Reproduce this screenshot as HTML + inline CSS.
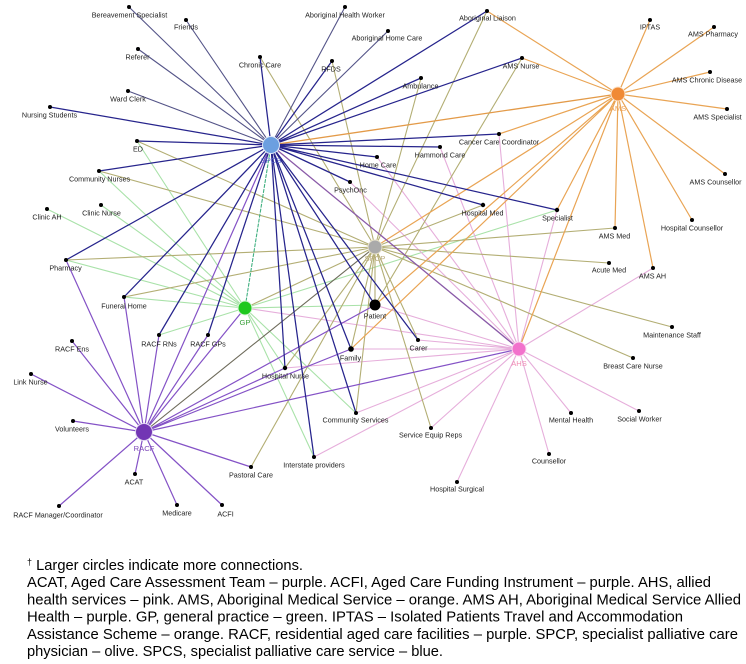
<!DOCTYPE html>
<html><head><meta charset="utf-8"><style>
html,body{margin:0;padding:0;background:#fff;}
svg{display:block;}
.l{font-family:"Liberation Sans",Arial,sans-serif;font-size:7.2px;fill:#222;text-anchor:middle;}
.h{font-family:"Liberation Sans",Arial,sans-serif;font-size:7.6px;text-anchor:middle;}
.c{font-family:"Liberation Sans",Arial,sans-serif;font-size:15px;fill:#000;}
</style></head><body>
<svg width="746" height="664" viewBox="0 0 746 664" xmlns="http://www.w3.org/2000/svg">
<rect width="746" height="664" fill="#fff"/>
<g fill="none" stroke-linecap="round">
<path stroke="#a9e2a9" stroke-width="1.1" d="M245 308L47 209M245 308L101 205M245 308L99 171M245 308L137 141M245 308L66 260M245 308L124 297M245 308L159 335M245 308L557 210M245 308L375 305M245 308L285 368M245 308L314 457M245 308L356 413"/>
<path stroke="#e6aedb" stroke-width="1.1" d="M519 349L245 308M519 349L375 305M519 349L351 349M519 349L418 340M519 349L285 368M519 349L356 413M519 349L314 457M519 349L431 428M519 349L457 482M519 349L549 454M519 349L571 413M519 349L639 411M519 349L653 268M519 349L557 210M519 349L499 134M519 349L440 147M519 349L377 157M519 349L350 182"/>
<path stroke="#b3ae74" stroke-width="1.1" d="M375 247L137 141M375 247L260 57M375 247L332 61M375 247L487 11M375 247L421 78M375 247L99 171M375 247L66 260M375 247L124 297M375 247L245 308M375 247L375 305M375 247L351 349M375 247L418 340M375 247L251 467M375 247L356 413M375 247L431 428M375 247L285 368M375 247L615 228M375 247L609 263M375 247L672 327M375 247L633 358M375 247L483 205M375 305L522 58"/>
<path stroke="#6d6a5a" stroke-width="1.1" d="M375 247L144 432"/>
<path stroke="#e9a454" stroke-width="1.2" d="M618 94L650 20M618 94L714 27M618 94L710 72M618 94L727 109M618 94L725 174M618 94L692 220M618 94L653 268M618 94L615 228M618 94L522 58M618 94L487 11M618 94L499 134M618 94L557 210M618 94L519 349M618 94L375 305M618 94L351 349M618 94L375 247"/>
<path stroke="#e39a48" stroke-width="1.3" d="M618 94L271 145"/>
<path stroke="#8452c6" stroke-width="1.2" d="M144 432L31 374M144 432L73 421M144 432L72 341M144 432L66 260M144 432L124 297M144 432L159 335M144 432L208 335M144 432L245 308M144 432L285 368M144 432L351 349M144 432L375 305M144 432L519 349M144 432L251 467M144 432L222 505M144 432L177 505M144 432L135 474M144 432L59 506M144 432L271 145"/>
<path stroke="#545488" stroke-width="1.1" d="M271 145L129 7M271 145L186 20M271 145L138 49M271 145L128 91M271 145L345 7M271 145L388 31"/>
<path stroke="#26248c" stroke-width="1.25" d="M271 145L50 107M271 145L137 141M271 145L260 57M271 145L332 61M271 145L487 11M271 145L421 78M271 145L522 58M271 145L499 134M271 145L440 147M271 145L377 157M271 145L350 182M271 145L483 205M271 145L557 210M271 145L99 171M271 145L66 260M271 145L124 297M271 145L159 335M271 145L208 335M271 145L285 368M271 145L314 457M271 145L356 413M271 145L351 349M271 145L375 305M271 145L418 340"/>
<path stroke="#8a5aa8" stroke-width="1.3" d="M271 145L519 349"/>
<path stroke="#40b080" stroke-width="1.1" stroke-dasharray="3 2" d="M271 145L245 308"/>
</g>
<g fill="#000">
<circle cx="129" cy="7" r="2"/><circle cx="186" cy="20" r="2"/><circle cx="138" cy="49" r="2"/><circle cx="260" cy="57" r="2"/>
<circle cx="332" cy="61" r="2"/><circle cx="345" cy="7" r="2"/><circle cx="128" cy="91" r="2"/><circle cx="50" cy="107" r="2"/>
<circle cx="137" cy="141" r="2"/><circle cx="99" cy="171" r="2"/><circle cx="350" cy="182" r="2"/><circle cx="377" cy="157" r="2"/>
<circle cx="487" cy="11" r="2"/><circle cx="388" cy="31" r="2"/><circle cx="650" cy="20" r="2"/><circle cx="714" cy="27" r="2"/>
<circle cx="522" cy="58" r="2"/><circle cx="421" cy="78" r="2"/><circle cx="710" cy="72" r="2"/><circle cx="727" cy="109" r="2"/>
<circle cx="499" cy="134" r="2"/><circle cx="440" cy="147" r="2"/><circle cx="725" cy="174" r="2"/><circle cx="47" cy="209" r="2"/>
<circle cx="101" cy="205" r="2"/><circle cx="66" cy="260" r="2"/><circle cx="124" cy="297" r="2"/><circle cx="159" cy="335" r="2"/>
<circle cx="208" cy="335" r="2"/><circle cx="72" cy="341" r="2"/><circle cx="351" cy="349" r="2.8"/><circle cx="285" cy="368" r="2.2"/>
<circle cx="483" cy="205" r="2.2"/><circle cx="557" cy="210" r="2.2"/><circle cx="615" cy="228" r="2"/><circle cx="692" cy="220" r="2"/>
<circle cx="609" cy="263" r="2"/><circle cx="653" cy="268" r="2"/><circle cx="418" cy="340" r="2"/><circle cx="672" cy="327" r="2"/>
<circle cx="633" cy="358" r="2"/><circle cx="31" cy="374" r="2"/><circle cx="73" cy="421" r="2"/><circle cx="135" cy="474" r="2"/>
<circle cx="59" cy="506" r="2"/><circle cx="177" cy="505" r="2"/><circle cx="222" cy="505" r="2"/><circle cx="251" cy="467" r="2"/>
<circle cx="314" cy="457" r="2"/><circle cx="356" cy="413" r="2"/><circle cx="431" cy="428" r="2"/><circle cx="571" cy="413" r="2"/>
<circle cx="639" cy="411" r="2"/><circle cx="549" cy="454" r="2"/><circle cx="457" cy="482" r="2"/>
</g>
<circle cx="271" cy="145" r="8.5" fill="#6c9fe0" stroke="#dfe8f8" stroke-width="1"/>
<circle cx="618" cy="94" r="7" fill="#f08a35" stroke="#fbe2c8" stroke-width="1"/>
<circle cx="375" cy="247" r="7" fill="#aaaaaa" stroke="#e8e2cc" stroke-width="1"/>
<circle cx="245" cy="308" r="7" fill="#1ec81e" stroke="#d8f4d8" stroke-width="1"/>
<circle cx="375" cy="305" r="5.5" fill="#000"/>
<circle cx="519" cy="349" r="7" fill="#f272cc" stroke="#fbd8f0" stroke-width="1"/>
<circle cx="144" cy="432" r="8.5" fill="#7236b4" stroke="#e2d6f2" stroke-width="1"/>
<text class="h" x="271" y="163" fill="#5a64cc">SPCS</text>
<text class="h" x="618" y="111" fill="#eea458">AMS</text>
<text class="h" x="375" y="261" fill="#b8aa7c">SPCP</text>
<text class="h" x="245" y="325" fill="#3aa03a">GP</text>
<text class="h" x="519" y="366" fill="#f08cb4">AHS</text>
<text class="h" x="144" y="451" fill="#7c48b8">RACF</text>
<text class="l" x="129.5" y="17.6">Bereavement Specialist</text>
<text class="l" x="186" y="29.6">Friends</text>
<text class="l" x="137.5" y="59.6">Referer</text>
<text class="l" x="260" y="67.6">Chronic Care</text>
<text class="l" x="331" y="71.6">RFDS</text>
<text class="l" x="345" y="17.6">Aboriginal Health Worker</text>
<text class="l" x="128" y="101.6">Ward Clerk</text>
<text class="l" x="49.5" y="117.6">Nursing Students</text>
<text class="l" x="138" y="151.6">ED</text>
<text class="l" x="99.5" y="181.6">Community Nurses</text>
<text class="l" x="350.5" y="192.6">PsychOnc</text>
<text class="l" x="378" y="167.6">Home Care</text>
<text class="l" x="487.5" y="20.6">Aboriginal Liaison</text>
<text class="l" x="387" y="40.6">Aboriginal Home Care</text>
<text class="l" x="650" y="29.6">IPTAS</text>
<text class="l" x="713" y="36.6">AMS Pharmacy</text>
<text class="l" x="521" y="68.6">AMS Nurse</text>
<text class="l" x="420.5" y="88.6">Ambulance</text>
<text class="l" x="707" y="82.6">AMS Chronic Disease</text>
<text class="l" x="717.5" y="119.6">AMS Specialist</text>
<text class="l" x="499" y="144.6">Cancer Care Coordinator</text>
<text class="l" x="440" y="157.6">Hammond Care</text>
<text class="l" x="715.5" y="184.6">AMS Counsellor</text>
<text class="l" x="47" y="219.6">Clinic AH</text>
<text class="l" x="101.5" y="215.6">Clinic Nurse</text>
<text class="l" x="65.5" y="270.6">Pharmacy</text>
<text class="l" x="124" y="308.6">Funeral Home</text>
<text class="l" x="159" y="346.6">RACF RNs</text>
<text class="l" x="208" y="346.6">RACF GPs</text>
<text class="l" x="72" y="351.6">RACF Ens</text>
<text class="l" x="375" y="318.6">Patient</text>
<text class="l" x="350.5" y="360.6">Family</text>
<text class="l" x="285.5" y="378.6">Hospital Nurse</text>
<text class="l" x="482.5" y="215.6">Hospital Med</text>
<text class="l" x="557.5" y="220.6">Specialist</text>
<text class="l" x="614.5" y="238.6">AMS Med</text>
<text class="l" x="692" y="230.6">Hospital Counsellor</text>
<text class="l" x="609" y="272.6">Acute Med</text>
<text class="l" x="652.5" y="278.6">AMS AH</text>
<text class="l" x="418.5" y="350.6">Carer</text>
<text class="l" x="672" y="337.6">Maintenance Staff</text>
<text class="l" x="633" y="368.6">Breast Care Nurse</text>
<text class="l" x="30.5" y="384.6">Link Nurse</text>
<text class="l" x="72" y="431.6">Volunteers</text>
<text class="l" x="134" y="484.6">ACAT</text>
<text class="l" x="58" y="517.6">RACF Manager/Coordinator</text>
<text class="l" x="177" y="515.6">Medicare</text>
<text class="l" x="225.5" y="516.6">ACFI</text>
<text class="l" x="251" y="477.6">Pastoral Care</text>
<text class="l" x="314" y="467.6">Interstate providers</text>
<text class="l" x="355.5" y="422.6">Community Services</text>
<text class="l" x="430.5" y="437.6">Service Equip Reps</text>
<text class="l" x="571" y="422.6">Mental Health</text>
<text class="l" x="639.5" y="421.6">Social Worker</text>
<text class="l" x="549" y="463.6">Counsellor</text>
<text class="l" x="457" y="491.6">Hospital Surgical</text>
<text class="c" x="27" y="570"><tspan font-size="9" dy="-5">†</tspan><tspan dy="5" textLength="271" lengthAdjust="spacingAndGlyphs"> Larger circles indicate more connections.</tspan></text>
<text class="c" x="27" y="587.2" textLength="684" lengthAdjust="spacingAndGlyphs">ACAT, Aged Care Assessment Team – purple. ACFI, Aged Care Funding Instrument – purple. AHS, allied</text>
<text class="c" x="27" y="604.4" textLength="714" lengthAdjust="spacingAndGlyphs">health services – pink. AMS, Aboriginal Medical Service – orange. AMS AH, Aboriginal Medical Service Allied</text>
<text class="c" x="27" y="621.6" textLength="656" lengthAdjust="spacingAndGlyphs">Health – purple. GP, general practice – green. IPTAS – Isolated Patients Travel and Accommodation</text>
<text class="c" x="27" y="638.8" textLength="711" lengthAdjust="spacingAndGlyphs">Assistance Scheme – orange. RACF, residential aged care facilities – purple. SPCP, specialist palliative care</text>
<text class="c" x="27" y="656" textLength="416" lengthAdjust="spacingAndGlyphs">physician – olive. SPCS, specialist palliative care service – blue.</text>
</svg>
</body></html>
